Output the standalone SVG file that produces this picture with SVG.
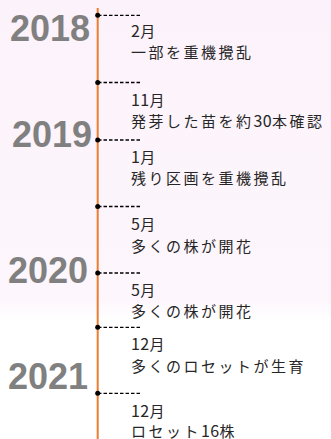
<svg xmlns="http://www.w3.org/2000/svg" width="331" height="439" viewBox="0 0 331 439">
<defs>
<linearGradient id="bg" x1="0" y1="0" x2="0" y2="1">
<stop offset="0" stop-color="#fcf2fb"/>
<stop offset="0.68" stop-color="#fdf6fc"/>
<stop offset="0.73" stop-color="#ffffff"/>
<stop offset="1" stop-color="#ffffff"/>
</linearGradient>
<style>
.year{font-family:"Liberation Sans",Arial,sans-serif;font-weight:bold;font-size:36px;fill:#808080}
.t{font-family:"Noto Sans CJK JP","Noto Sans",sans-serif;font-size:15px;fill:#262626;letter-spacing:2.5px}
.n{font-size:16px;letter-spacing:0.3px}
.dash{stroke:#000;stroke-width:1.3;stroke-dasharray:3.5 2;fill:none}
.dot{fill:#000}
</style>
</defs>
<rect width="331" height="439" fill="url(#bg)"/>
<g id="years">
<text class="year" x="10" y="41">2018</text>
<text class="year" x="12" y="147">2019</text>
<text class="year" x="8" y="283">2020</text>
<text class="year" x="8" y="389">2021</text>
</g>
<g id="connectors">
<line x1="97.7" y1="8" x2="97.7" y2="439" stroke="#ed7d31" stroke-width="2"/>
<line class="dash" x1="98" y1="15.3" x2="140" y2="15.3"/>
<line class="dash" x1="98" y1="82.5" x2="140" y2="82.5"/>
<line class="dash" x1="98" y1="140" x2="140" y2="140"/>
<line class="dash" x1="98" y1="206.5" x2="140" y2="206.5"/>
<line class="dash" x1="98" y1="273" x2="140" y2="273"/>
<line class="dash" x1="98" y1="327.3" x2="140" y2="327.3"/>
<line class="dash" x1="98" y1="393.3" x2="140" y2="393.3"/>
</g>
<g id="e1"><circle class="dot" cx="97.7" cy="15.3" r="2.5"/><text class="t" x="131" y="36.7"><tspan class="n">2</tspan>月</text><text class="t" x="131" y="58">一部を重機攪乱</text></g>
<g id="e2"><circle class="dot" cx="97.7" cy="82.5" r="2.5"/><text class="t" x="131" y="106"><tspan class="n">11</tspan>月</text><text class="t" x="131" y="127">発芽した苗を約<tspan class="n">30</tspan>本確認</text></g>
<g id="e3"><circle class="dot" cx="97.7" cy="140" r="2.5"/><text class="t" x="131" y="163.3"><tspan class="n">1</tspan>月</text><text class="t" x="131" y="183.5">残り区画を重機攪乱</text></g>
<g id="e4"><circle class="dot" cx="97.7" cy="206.5" r="2.5"/><text class="t" x="131" y="230"><tspan class="n">5</tspan>月</text><text class="t" x="131" y="251.7">多くの株が開花</text></g>
<g id="e5"><circle class="dot" cx="97.7" cy="273" r="2.5"/><text class="t" x="131" y="296"><tspan class="n">5</tspan>月</text><text class="t" x="131" y="316.7">多くの株が開花</text></g>
<g id="e6"><circle class="dot" cx="97.7" cy="327.3" r="2.5"/><text class="t" x="131" y="350"><tspan class="n">12</tspan>月</text><text class="t" x="131" y="371.7">多くのロセットが生育</text></g>
<g id="e7"><circle class="dot" cx="97.7" cy="393.3" r="2.5"/><text class="t" x="131" y="416.7"><tspan class="n">12</tspan>月</text><text class="t" x="131" y="436.7">ロセット<tspan class="n">16</tspan>株</text></g>
</svg>
